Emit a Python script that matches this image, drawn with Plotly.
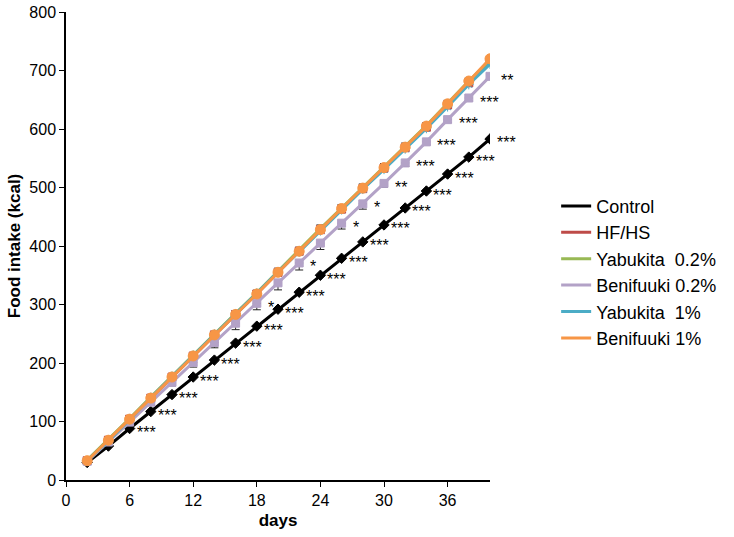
import plotly.graph_objects as go

days = [2, 4, 6, 8, 10, 12, 14, 16, 18, 20, 22, 24, 26, 28, 30, 32, 34, 36, 38, 40]
control = [30, 58, 88, 117, 146, 176, 205, 234, 263, 292, 321, 350, 379, 407, 436, 465, 494, 523, 552, 583]
hfhs = [33, 68, 104, 140, 176, 212, 248, 283, 318, 355, 391, 428, 463, 498, 533, 568, 603, 641, 679, 715]
yab02 = [34, 69, 105, 142, 178, 214, 250, 285, 320, 357, 393, 430, 465, 500, 535, 570, 606, 644, 682, 717]
beni02 = [32, 65, 99, 133, 167, 201, 235, 268, 302, 337, 371, 405, 439, 472, 507, 542, 578, 616, 653, 690]
yab1 = [33, 67, 103, 141, 177, 213, 249, 284, 319, 356, 390, 426, 462, 497, 531, 566, 601, 638, 676, 711]
beni1 = [33, 68, 104, 140, 176, 212, 248, 283, 318, 355, 391, 428, 464, 499, 534, 569, 605, 643, 682, 720]

hfhs_err = [2, 3, 4, 4, 5, 5, 6, 6, 6, 7, 7, 8, 8, 8, 8, 8, 8, 8, 8, 8]
beni02_err = [2, 3, 4, 5, 6, 8, 9, 11, 11, 12, 12, 11, 10, 9, 7, 6, 5, 5, 5, 5]

control_sig = ["", "", "***", "***", "***", "***", "***", "***", "***", "***",
               "***", "***", "***", "***", "***", "***", "***", "***", "***", "***"]
beni02_sig = ["", "", "", "", "", "", "", "", "*", "", "*", "", "*", "*", "**",
              "***", "***", "***", "***", "**"]

names = ["Control", "HF/HS", "Yabukita  0.2%", "Benifuuki 0.2%", "Yabukita  1%", "Benifuuki 1%"]
colors = ["#000000", "#BE4B48", "#98B954", "#B3A2C7", "#4BACC6", "#F79646"]
symbols = ["diamond", "square", "triangle-up", "square", "asterisk-open", "circle"]
series = [control, hfhs, yab02, beni02, yab1, beni1]
errs = [None, hfhs_err, None, beni02_err, None, None]
err_dir = [None, "up", None, "down", None, None]

fig = go.Figure()
for name, col, sym, vals, e, d in zip(names, colors, symbols, series, errs, err_dir):
    kw = {}
    if e is not None:
        if d == "up":
            kw["error_y"] = dict(type="data", symmetric=False, array=e,
                                 arrayminus=[0] * len(e), color="#222222",
                                 thickness=1, width=4)
        else:
            kw["error_y"] = dict(type="data", symmetric=False, array=[0] * len(e),
                                 arrayminus=e, color="#222222",
                                 thickness=1, width=4)
    msize = 8
    if sym == "circle":
        msize = 10
    fig.add_trace(go.Scatter(
        x=days, y=vals, mode="lines+markers", name=name,
        line=dict(color=col, width=3),
        marker=dict(symbol=sym, size=msize, color=col,
                    line=dict(color=col, width=1)),
        showlegend=False, **kw))

# legend-only entries (line symbols only)
for i, (name, col) in enumerate(zip(names, colors)):
    fig.add_trace(go.Scatter(x=[None], y=[None], mode="lines", name=name,
                             line=dict(color=col, width=3), showlegend=True))

annots = []
for dd, v, s in zip(days, control, control_sig):
    if s:
        annots.append(dict(x=dd, y=v, xref="x", yref="y", text=s, showarrow=False,
                           xanchor="left", yanchor="middle", xshift=5, yshift=-4,
                           font=dict(family="Liberation Sans, Arial", size=16, color="#000")))
for dd, v, s in zip(days, beni02, beni02_sig):
    if s:
        annots.append(dict(x=dd, y=v, xref="x", yref="y", text=s, showarrow=False,
                           xanchor="left", yanchor="middle", xshift=9, yshift=-4,
                           font=dict(family="Liberation Sans, Arial", size=16, color="#000")))

fig.update_layout(
    width=734, height=537,
    margin=dict(l=66, r=238, t=12, b=57),
    paper_bgcolor="white", plot_bgcolor="white",
    font=dict(family="Liberation Sans, Arial", size=16, color="#000"),
    annotations=annots,
    legend=dict(x=1.156, y=0.444, xanchor="left", yanchor="middle",
                font=dict(size=18, color="#000"), itemwidth=30,
                tracegroupgap=0, bgcolor="rgba(0,0,0,0)"),
    xaxis=dict(range=[0, 40], tickmode="array", tickvals=[0, 6, 12, 18, 24, 30, 36],
               showgrid=False, zeroline=False, showline=True, linecolor="#000",
               linewidth=1.5, ticks="outside", ticklen=5, tickcolor="#000",
               automargin=False, ticklabeloverflow="allow",
               title=dict(text="<b>days</b>", font=dict(size=17), standoff=6)),
    yaxis=dict(range=[0, 800], dtick=100, showgrid=False, zeroline=False,
               showline=True, linecolor="#000", linewidth=1.5, ticks="outside",
               ticklen=5, tickcolor="#000", automargin=False, ticklabeloverflow="allow",
               title=dict(text="<b>Food intake (kcal)</b>", font=dict(size=17), standoff=4)),
)

fig.write_html("out.html", config={"displayModeBar": False},
               post_script="document.body.style.margin='0';")
